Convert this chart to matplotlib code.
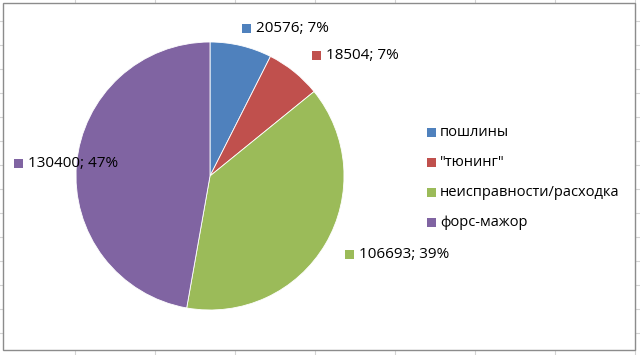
import matplotlib
matplotlib.use("Agg")
import matplotlib.pyplot as plt
from matplotlib.patches import Rectangle

categories = ["пошлины", "\"тюнинг\"", "неисправности/расходка", "форс-мажор"]
values = [20576, 18504, 106693, 130400]
colors = ["#4F81BD", "#C0504D", "#9BBB59", "#8064A2"]

plt.rcParams['font.family'] = ['Open Sans', 'DejaVu Sans']
FS_LAB = 11
FS_LEG = 10.5

W, H = 640, 355
fig = plt.figure(figsize=(W / 100, H / 100), dpi=100)
bg = fig.add_axes([0, 0, 1, 1])
bg.set_xlim(0, W)
bg.set_ylim(H, 0)
bg.axis("off")

# spreadsheet grid behind chart
grid_c = "#D4D4D4"
for x in range(75, W, 80):
    bg.plot([x, x], [0, H], color=grid_c, lw=0.8, zorder=0)
for y in range(21, H, 24):
    bg.plot([0, W], [y, y], color=grid_c, lw=0.8, zorder=0)
bg.add_patch(Rectangle((3, 3), 632, 347, facecolor="white", edgecolor="#8C8C8C", lw=1.0, zorder=1))

# pie
cx, cy, r = 210, 176, 134
pax = fig.add_axes([(cx - r) / W, (H - cy - r) / H, 2 * r / W, 2 * r / H])
pax.pie(values, colors=colors, startangle=90, counterclock=False,
        wedgeprops=dict(edgecolor="white", linewidth=0.6))
pax.set_xlim(-1, 1)
pax.set_ylim(-1, 1)
pax.set_aspect("auto")
pax.axis("off")

# overlay for labels and legend
ov = fig.add_axes([0, 0, 1, 1])
ov.set_xlim(0, W)
ov.set_ylim(H, 0)
ov.axis("off")
ov.patch.set_alpha(0)

total = sum(values)
label_pos = [(242, 28.5), (312, 55.5), (345, 254), (14, 163.5)]
for (x, y), v, c in zip(label_pos, values, colors):
    ov.add_patch(Rectangle((x, y - 4.5), 8.5, 9, facecolor=c, edgecolor="none", zorder=3))
    ov.text(x + 14, y, f"{v}; {round(v / total * 100)}%", fontsize=FS_LAB, va="center", ha="left", zorder=3)

# legend
leg_y = [132, 162, 192, 222]
for y, name, c in zip(leg_y, categories, colors):
    ov.add_patch(Rectangle((427, y - 4.5), 8.5, 9, facecolor=c, edgecolor="none", zorder=3))
    ov.text(440, y, name, fontsize=FS_LEG, va="center", ha="left", zorder=3)

fig.savefig("out.png", dpi=100)
